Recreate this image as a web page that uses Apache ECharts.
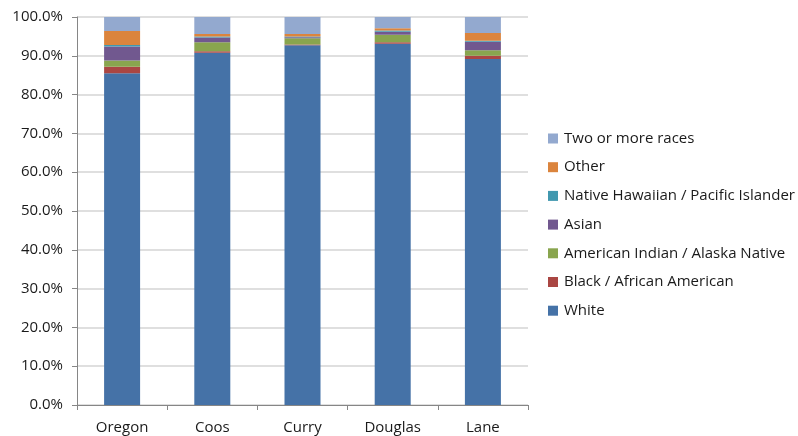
<!DOCTYPE html>
<html>
<head>
<meta charset="utf-8">
<script src="https://cdn.jsdelivr.net/npm/echarts@6/dist/echarts.min.js"></script>
<style>
  html, body { margin: 0; padding: 0; background: #fff; }
  #chart { width: 798px; height: 436px; }
</style>
</head>
<body>
<div id="chart"></div>
<script>
// Race composition by area, percent of population
var areas = ['Oregon', 'Coos', 'Curry', 'Douglas', 'Lane'];

var white      = [85.5, 90.8, 92.7, 93.1, 89.2];
var black      = [1.7, 0.4, 0.2, 0.4, 0.8];
var amIndian   = [1.6, 2.3, 1.6, 1.9, 1.4];
var asian      = [3.6, 1.2, 0.3, 0.8, 2.2];
var hawaiian   = [0.4, 0.3, 0.2, 0.3, 0.3];
var other      = [3.6, 0.6, 0.6, 0.6, 2.0];
var twoOrMore  = [3.6, 4.4, 4.4, 2.9, 4.1];

var yTicks = [0, 10, 20, 30, 40, 50, 60, 70, 80, 90, 100];

var seriesDefs = [
  { name: 'White', data: white, color: '#4572A7' },
  { name: 'Black / African American', data: black, color: '#AA4643' },
  { name: 'American Indian / Alaska Native', data: amIndian, color: '#89A54E' },
  { name: 'Asian', data: asian, color: '#71588F' },
  { name: 'Native Hawaiian / Pacific Islander', data: hawaiian, color: '#4198AF' },
  { name: 'Other', data: other, color: '#DB843D' },
  { name: 'Two or more races', data: twoOrMore, color: '#93A9CF' }
];

var font = 'Open Sans, Liberation Sans, Arial, sans-serif';
var chart = echarts.init(document.getElementById('chart'), null, { renderer: 'canvas' });

chart.setOption({
  animation: false,
  backgroundColor: '#ffffff',
  grid: { left: 77, right: 270, top: 17, bottom: 31, containLabel: false },
  legend: {
    orient: 'vertical',
    left: 548,
    top: 131,
    padding: 0,
    itemWidth: 10,
    itemHeight: 10,
    itemGap: 13.7,
    icon: 'rect',
    data: seriesDefs.map(function (s) { return s.name; }).reverse(),
    textStyle: { fontFamily: font, fontSize: 15, color: '#1a1a1a', padding: [0, 0, 0, 1] }
  },
  xAxis: {
    type: 'category',
    data: areas,
    axisLine: { lineStyle: { color: '#868686', width: 1 } },
    axisTick: { show: true, alignWithLabel: false, length: 5, lineStyle: { color: '#868686' } },
    axisLabel: { fontFamily: font, fontSize: 15, color: '#1a1a1a', margin: 15 }
  },
  yAxis: {
    type: 'value',
    min: 0,
    max: 100,
    interval: 10,
    axisLine: { show: true, lineStyle: { color: '#868686', width: 1 } },
    axisTick: { show: true, length: 5, lineStyle: { color: '#868686' } },
    splitLine: { lineStyle: { color: '#d4d4d4', width: 1.5 } },
    axisLabel: {
      fontFamily: font, fontSize: 15, color: '#1a1a1a', margin: 14,
      formatter: function (v) { return yTicks.indexOf(v) >= 0 ? v.toFixed(1) + '%' : ''; }
    }
  },
  series: seriesDefs.map(function (s) {
    return {
      name: s.name,
      type: 'bar',
      stack: 'total',
      barWidth: 36,
      data: s.data,
      itemStyle: { color: s.color },
      emphasis: { disabled: true }
    };
  })
});
</script>
</body>
</html>
